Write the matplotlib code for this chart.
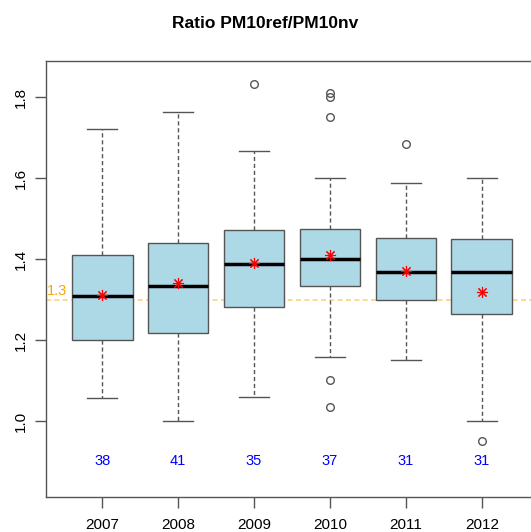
import matplotlib
matplotlib.use("Agg")
import matplotlib.pyplot as plt

years = ["2007", "2008", "2009", "2010", "2011", "2012"]
whisk_lo = [1.058, 1.000, 1.060, 1.159, 1.151, 1.000]
q1 = [1.200, 1.217, 1.281, 1.333, 1.300, 1.265]
medians = [1.309, 1.334, 1.388, 1.400, 1.368, 1.368]
q3 = [1.411, 1.439, 1.472, 1.474, 1.453, 1.449]
whisk_hi = [1.721, 1.764, 1.667, 1.600, 1.588, 1.600]
means = [1.310, 1.341, 1.390, 1.411, 1.370, 1.319]
outliers = [[], [], [1.832], [1.811, 1.800, 1.750, 1.101, 1.035], [1.684], [0.951]]
counts = [38, 41, 35, 37, 31, 31]
ref_value = 1.3
title = "Ratio PM10ref/PM10nv"

plt.rcParams['font.family'] = ['Liberation Sans', 'DejaVu Sans']

fig = plt.figure(figsize=(5.31, 5.32), dpi=100)
ax = fig.add_axes([46/531, 35/532, 492/531, 436/532])

stats = []
for i in range(len(years)):
    stats.append(dict(med=medians[i], q1=q1[i], q3=q3[i], whislo=whisk_lo[i],
                      whishi=whisk_hi[i], fliers=outliers[i], label=years[i]))

positions = list(range(1, len(years) + 1))
edge = "#555555"
ax.bxp(stats, positions=positions, widths=0.8, patch_artist=True, showfliers=True,
       boxprops=dict(facecolor="#ADD8E6", edgecolor=edge, linewidth=1.0),
       medianprops=dict(color="black", linewidth=2.5),
       whiskerprops=dict(color=edge, linewidth=1.0, linestyle=(0, (3, 2))),
       capprops=dict(color=edge, linewidth=1.0),
       capwidths=0.4,
       flierprops=dict(marker="o", markerfacecolor="none", markeredgecolor=edge,
                       markersize=5.5, markeredgewidth=1.0))

ax.plot(positions, means, linestyle="none", marker=(8, 2, 0), color="red",
        markersize=8, markeredgewidth=0.8, zorder=5)

ax.axhline(ref_value, color="#FFA500", alpha=0.5, linestyle=(0, (3, 2)), linewidth=1.2, zorder=1)
ax.text(0.27, ref_value + 0.003, f"{ref_value}", color="#FFA500", fontsize=10.5,
        ha="left", va="bottom")

for p, c in zip(positions, counts):
    ax.text(p, 0.90, str(c), color="blue", fontsize=10.5, ha="center", va="center")

ax.set_xlim(0.26, 6.74)
ax.set_ylim(0.8123, 1.889)
ax.set_yticks([1.0, 1.2, 1.4, 1.6, 1.8])
ax.set_yticklabels(["1.0", "1.2", "1.4", "1.6", "1.8"], rotation=90, va="center")
ax.set_xticks(positions)
ax.set_xticklabels(years)
ax.tick_params(axis="both", direction="out", length=8, width=1.0, color=edge,
               labelsize=11, pad=7)
ax.tick_params(axis="y", pad=5)
for s in ax.spines.values():
    s.set_color(edge)
    s.set_linewidth(1.0)

fig.suptitle(title, fontsize=12.5, fontweight="bold", y=1 - 23/532, va="center")

fig.savefig("out.png", dpi=100)
